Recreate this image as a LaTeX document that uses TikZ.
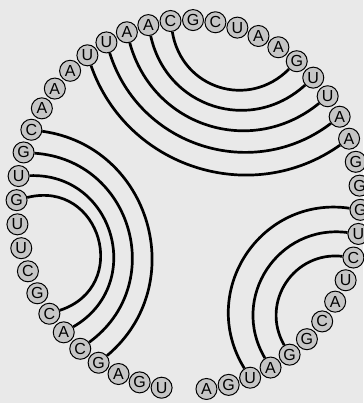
\documentclass[tikz,border=0pt]{standalone}
\usepackage{fontspec}
\setsansfont{Liberation Sans}
\usepackage{tikz}
\definecolor{paper}{RGB}{233,233,233}
\definecolor{nucfill}{RGB}{198,198,198}

\tikzset{
  nuc/.style={circle, draw=black, line width=1pt, fill=nucfill,
    minimum size=21pt, inner sep=0pt, font=\sffamily\fontsize{16}{16}\selectfont},
  bond/.style={black, line width=2.7pt}
}

\begin{document}
\begin{tikzpicture}[x=1pt,y=1pt]
  % Grey paper behind the ring
  \fill[paper] (0,0) rectangle (363,403);
  \useasboundingbox (0,0) rectangle (363,403);
  % Ring of bases, starting at the bottom and running counter-clockwise
  \begin{scope}[shift={(188.5,198)}]
    \foreach \nb [count=\i] in {A,G,U,A,G,G,C,A,U,C,U,G,G,G,A,A,U,U,G,A,A,U,C,G,
                                C,A,A,U,U,A,A,A,C,G,U,G,U,U,C,G,C,A,C,G,A,G,U}
      \node[nuc] (n\i) at ({-84+7.5*(\i-1)}:172 and 185) {\nb};
  \end{scope}
  % Top stem: five pairs bowing down into the ring
  \foreach \a/\b/\bend/\loose in {29/15/53/1.06, 28/16/55/1.08, 27/17/57/1.12,
                                  26/18/60/1.16, 25/19/63/1.2}
    \draw[bond] (n\a) to[bend right=\bend, looseness=\loose] (n\b);
  % Left stem: four pairs
  \foreach \a/\b/\bend/\loose in {33/44/66/1.2, 34/43/70/1.27, 35/42/76/1.37,
                                  36/41/88/1.65}
    \draw[bond] (n\a) to[bend left=\bend, looseness=\loose] (n\b);
  % Right stem: three pairs
  \foreach \a/\b/\bend/\loose in {12/3/65/1.2, 11/4/64/1.19, 10/5/63/1.18}
    \draw[bond] (n\a) to[bend right=\bend, looseness=\loose] (n\b);
\end{tikzpicture}
\end{document}
